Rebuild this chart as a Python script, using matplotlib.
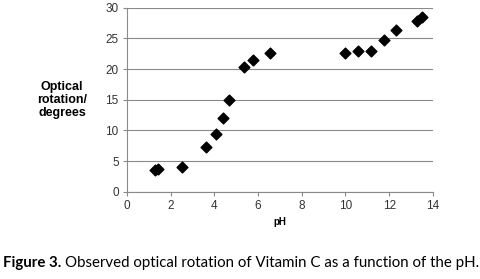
import matplotlib
matplotlib.use("Agg")
import matplotlib.pyplot as plt

# data
ph = [1.30, 1.41, 2.51, 3.60, 4.07, 4.39, 4.68, 5.37, 5.77, 6.56,
      9.98, 10.56, 11.17, 11.75, 12.29, 13.27, 13.50]
rotation = [3.6, 3.7, 4.0, 7.35, 9.4, 12.0, 15.0, 20.4, 21.5, 22.6,
            22.65, 22.9, 23.0, 24.75, 26.3, 27.8, 28.5]
x_ticks = [0, 2, 4, 6, 8, 10, 12, 14]
y_ticks = [0, 5, 10, 15, 20, 25, 30]

fig = plt.figure(figsize=(4.81, 2.79), dpi=100)
ax = fig.add_axes([0.264, 0.312, 0.636, 0.661])

ax.scatter(ph, rotation, marker="D", s=30, color="black", zorder=3)

ax.set_xlim(0, 14)
ax.set_ylim(0, 30)
ax.set_xticks(x_ticks)
ax.set_yticks(y_ticks)
ax.grid(axis="y", color="#8a8a8a", linewidth=0.8)
ax.set_axisbelow(True)
for side in ["top", "right"]:
    ax.spines[side].set_visible(False)
for side in ["left", "bottom"]:
    ax.spines[side].set_color("#8a8a8a")
    ax.spines[side].set_linewidth(0.8)
ax.tick_params(direction="out", length=3, width=0.8, color="#8a8a8a",
               labelsize=8.5, labelcolor="#333333", pad=3)
for lbl in ax.get_xticklabels() + ax.get_yticklabels():
    lbl.set_family("Liberation Sans")

fig.text(62 / 481, 1 - 100 / 279, "Optical\nrotation/\ndegrees", ha="center",
         va="center", fontsize=9, fontweight="bold", family="Liberation Sans",
         linespacing=1.1)
fig.text(280 / 481, 1 - 222 / 279, "pH", ha="center", va="center",
         fontsize=7, fontweight="bold", family="Liberation Sans")

# caption: bold prefix then regular text right after it
cap_y = 1 - 263 / 279
fs = 10.8
bold = fig.text(3 / 481, cap_y, "Figure 3.", ha="left", va="center",
                fontsize=fs, fontweight="bold", family="Lato")
renderer = fig.canvas.get_renderer()
x_end = bold.get_window_extent(renderer).x1
fig.text((x_end + 4) / 481, cap_y,
         "Observed optical rotation of Vitamin C as a function of the pH.",
         ha="left", va="center", fontsize=fs, family="Lato")

fig.savefig("out.png", dpi=100, facecolor="white")
